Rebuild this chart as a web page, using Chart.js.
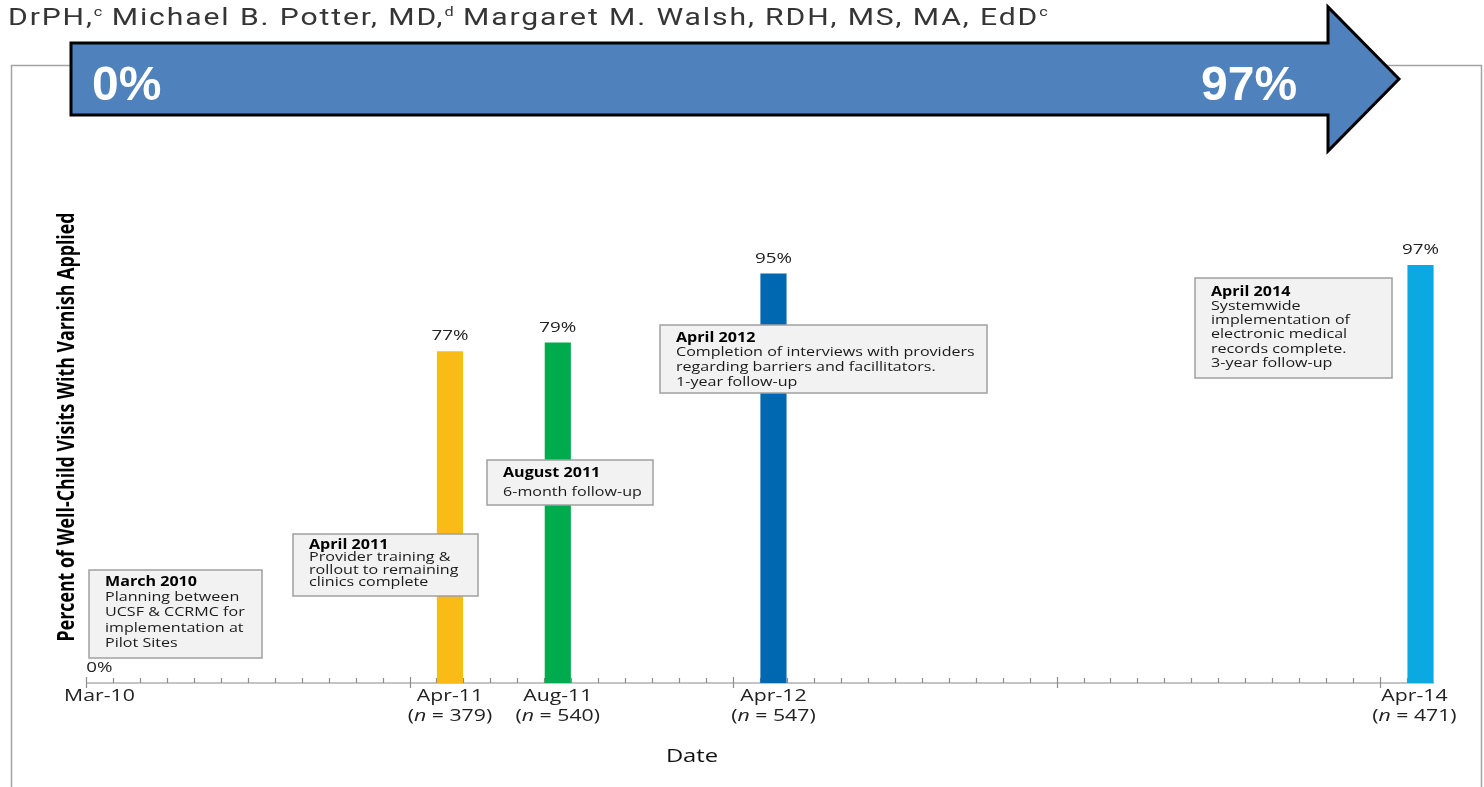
<!DOCTYPE html>
<html>
<head>
<meta charset="utf-8">
<script src="https://cdn.jsdelivr.net/npm/chart.js@4.4.1/dist/chart.umd.min.js"></script>
<style>
  html, body { margin: 0; padding: 0; background: #fff; }
  #wrap { position: relative; width: 1484px; height: 787px; overflow: hidden; }
  #authors {
    position: absolute; left: 8px; top: 3px; white-space: nowrap;
    font-family: Roboto, sans-serif; font-size: 24px; color: #353535;
    letter-spacing: 1.5px;
    transform-origin: 0 0; transform: scaleX(1.255);
  }
  #authors sup { font-size: 13px; vertical-align: 9px; line-height: 0; letter-spacing: 0; }
  canvas { position: absolute; left: 0; top: 0; }
  #arrow { position: absolute; left: 0; top: 0; }
</style>
</head>
<body>
<div id="wrap">
  <canvas id="chart" width="1484" height="787" style="width:1484px;height:787px"></canvas>
  <div id="authors">DrPH,<sup>c</sup> Michael B. Potter, MD,<sup>d</sup> Margaret M. Walsh, RDH, MS, MA, EdD<sup>c</sup></div>
  <svg id="arrow" width="1484" height="160">
    <polygon points="71,43 1328,43 1328,7 1399,79 1328,151 1328,115 71,115"
             fill="#4F81BD" stroke="#000" stroke-width="3" stroke-linejoin="miter"/>
    <text x="92" y="100" font-family="Liberation Sans, Arial, sans-serif" font-weight="bold" font-size="48" fill="#fff">0%</text>
    <text x="1201" y="100" font-family="Liberation Sans, Arial, sans-serif" font-weight="bold" font-size="48" fill="#fff">97%</text>
  </svg>
</div>
<script>
// survey points: month of the chart review, share of visits with varnish, sample size
const eventMonths = ['Mar-10', 'Apr-11', 'Aug-11', 'Apr-12', 'Apr-14'];
const percentVarnished = [0, 77, 79, 95, 97];
const sampleSizes = [null, 379, 540, 547, 471];
const barColors = ['#9A9A9A', '#FBBB17', '#00AB4E', '#0067B1', '#0AA9E1'];

const yTitle = 'Percent of Well-Child Visits With Varnish Applied';
const xTitle = 'Date';

// callout boxes (page pixels)
const notes = [
  { x: 89, y: 570, w: 173, h: 88, ty: 12, lh: 15.3, title: 'March 2010',
    lines: ['Planning between', 'UCSF & CCRMC for', 'implementation at', 'Pilot Sites'] },
  { x: 293, y: 534, w: 185, h: 62, ty: 11, lh: 12.5, title: 'April 2011',
    lines: ['Provider training &', 'rollout to remaining', 'clinics complete'] },
  { x: 487, y: 460, w: 166, h: 45, ty: 13, lh: 19, title: 'August 2011',
    lines: ['6-month follow-up'] },
  { x: 660, y: 325, w: 327, h: 68, ty: 13, lh: 14.6, title: 'April 2012',
    lines: ['Completion of interviews with providers', 'regarding barriers and facillitators.', '1-year follow-up'] },
  { x: 1195, y: 278, w: 197, h: 100, ty: 14, lh: 14.2, title: 'April 2014',
    lines: ['Systemwide', 'implementation of', 'electronic medical', 'records complete.', '3-year follow-up'] },
];

// one category per month, Mar-10 .. Apr-14
const monthNames = ['Jan', 'Feb', 'Mar', 'Apr', 'May', 'Jun', 'Jul', 'Aug', 'Sep', 'Oct', 'Nov', 'Dec'];
const axisMonths = [];
for (let y = 2010, m = 2; y < 2014 || m <= 3; ) {
  axisMonths.push(monthNames[m] + '-' + String(y).slice(2));
  m++;
  if (m > 11) { m = 0; y++; }
}

const SX = 1.25; // the figure is stretched sideways
const FONT = '"Open Sans", sans-serif';

function sText(ctx, str, x, y, align, sx) {
  ctx.save();
  ctx.translate(x, y);
  ctx.scale(sx, 1);
  ctx.textAlign = align;
  ctx.fillText(str, 0, 0);
  ctx.restore();
}

// text made of pieces in different fonts, centred on x
function richText(ctx, parts, cx, y, sx) {
  let total = 0;
  parts.forEach(p => { ctx.font = p.font; p.w = ctx.measureText(p.text).width; total += p.w; });
  ctx.save();
  ctx.translate(cx, y);
  ctx.scale(sx, 1);
  ctx.textAlign = 'left';
  let x = -total / 2;
  parts.forEach(p => { ctx.font = p.font; ctx.fillText(p.text, x, 0); x += p.w; });
  ctx.restore();
}

const decor = {
  id: 'decor',
  beforeDatasetsDraw(chart) {
    const ctx = chart.ctx;
    const xs = chart.scales.x;
    const area = chart.chartArea;
    const half = (xs.getPixelForValue(1) - xs.getPixelForValue(0)) / 2;

    // figure frame
    ctx.save();
    ctx.strokeStyle = '#A3A3A3';
    ctx.lineWidth = 1.5;
    ctx.beginPath();
    ctx.moveTo(11.5, 800);
    ctx.lineTo(11.5, 65.5);
    ctx.lineTo(1481.5, 65.5);
    ctx.lineTo(1481.5, 800);
    ctx.stroke();

    // date axis with month ticks
    ctx.strokeStyle = '#8C8C8C';
    ctx.lineWidth = 1.2;
    ctx.beginPath();
    ctx.moveTo(area.left, area.bottom);
    ctx.lineTo(area.right, area.bottom);
    for (let k = 0; k < axisMonths.length; k++) {
      const px = Math.round(xs.getPixelForValue(k) - half) + 0.5;
      if (k % 12 === 0) {
        ctx.moveTo(px, area.bottom - 6);
        ctx.lineTo(px, area.bottom + 5);
      } else {
        ctx.moveTo(px, area.bottom - 5);
        ctx.lineTo(px, area.bottom);
      }
    }
    ctx.stroke();
    ctx.restore();
  },
  afterDatasetsDraw(chart) {
    const ctx = chart.ctx;
    const xs = chart.scales.x;
    const area = chart.chartArea;
    const meta = chart.getDatasetMeta(0);

    ctx.save();
    ctx.fillStyle = '#222';
    ctx.textBaseline = 'middle';

    // value labels over the bars
    ctx.font = '15px ' + FONT;
    meta.data.forEach((bar, i) => {
      sText(ctx, percentVarnished[i] + '%', bar.x, bar.y - 15, 'center', SX);
    });

    // date labels with sample sizes, kept inside the frame on the right
    eventMonths.forEach((m, i) => {
      let cx = xs.getPixelForValue(axisMonths.indexOf(m));
      ctx.font = '17px ' + FONT;
      const halfW = ctx.measureText('(n = 000)').width * SX / 2;
      cx = Math.min(cx, 1457 - halfW);
      sText(ctx, m, cx, area.bottom + 13, 'center', SX);
      if (sampleSizes[i] !== null) {
        richText(ctx, [
          { text: '(', font: '17px ' + FONT },
          { text: 'n', font: 'italic 17px ' + FONT },
          { text: ' = ' + sampleSizes[i] + ')', font: '17px ' + FONT },
        ], cx, area.bottom + 33, SX);
      }
    });

    // axis titles
    ctx.fillStyle = '#111';
    ctx.font = '19px ' + FONT;
    sText(ctx, xTitle, 692, 757, 'center', SX);

    ctx.save();
    ctx.translate(67, 427);
    ctx.scale(1.32, 1);
    ctx.rotate(-Math.PI / 2);
    ctx.font = 'bold 17.8px ' + FONT;
    ctx.textAlign = 'center';
    ctx.fillStyle = '#000';
    ctx.fillText(yTitle, 0, 0);
    ctx.restore();

    // callout boxes
    const BX = 1.21;
    notes.forEach(n => {
      ctx.fillStyle = '#F2F2F2';
      ctx.fillRect(n.x, n.y, n.w, n.h);
      ctx.strokeStyle = '#A0A0A0';
      ctx.lineWidth = 1.5;
      ctx.strokeRect(n.x, n.y, n.w, n.h);
      const tx = n.x + 16;
      ctx.fillStyle = '#000';
      ctx.font = 'bold 13.3px ' + FONT;
      sText(ctx, n.title, tx, n.y + n.ty, 'left', BX);
      ctx.fillStyle = '#1A1A1A';
      ctx.font = '13.3px ' + FONT;
      n.lines.forEach((line, j) => {
        sText(ctx, line, tx, n.y + n.ty + n.lh * (j + 1), 'left', BX);
      });
    });
    ctx.restore();
  }
};

new Chart(document.getElementById('chart'), {
  type: 'bar',
  data: {
    labels: axisMonths,
    datasets: [{
      label: 'Percent with varnish',
      data: eventMonths.map((m, i) => ({ x: m, y: percentVarnished[i] })),
      backgroundColor: barColors,
      borderWidth: 0,
      barPercentage: 1,
      categoryPercentage: 0.97,
    }],
  },
  options: {
    responsive: false,
    animation: false,
    layout: { padding: { left: 86, right: 50, top: 252, bottom: 104 } },
    scales: {
      x: { display: false, ticks: { autoSkip: false } },
      y: { display: false, min: 0, max: 100 },
    },
    plugins: {
      legend: { display: false },
      tooltip: { enabled: false },
    },
  },
  plugins: [decor],
});
</script>
</body>
</html>
